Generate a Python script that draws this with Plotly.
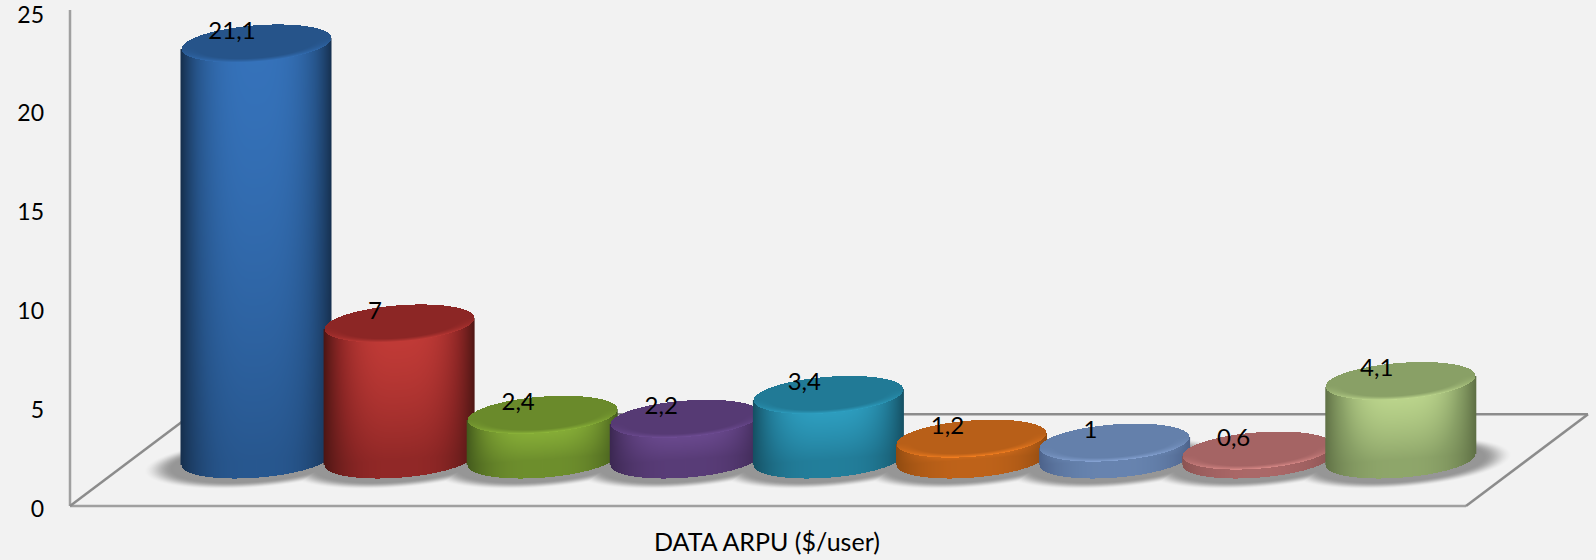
"""DATA ARPU chart: 3D-looking cylinders drawn as shaded heatmaps on a flat floor."""
import numpy as np
import plotly.graph_objects as go

VALUES = [21.1, 7, 2.4, 2.2, 3.4, 1.2, 1, 0.6, 4.1]
AXIS_LABEL = "DATA ARPU ($/user)"
Y_TICKS = [0, 5, 10, 15, 20, 25]

# edge of the side, top face, brightest part of the side
EDGE = ["#16304f", "#4e1614", "#435a1c", "#3c2852", "#155063", "#8f4a10", "#4c628a", "#8a5352", "#5f7045"]
TOP = ["#26548a", "#8c2625", "#6a8a2b", "#563a74", "#217a96", "#b85f18", "#6480ab", "#a56464", "#89a066"]
LIGHT = ["#3572ba", "#c23b37", "#8db63a", "#6f4d95", "#2fa2c4", "#f47f20", "#86a3d3", "#d98a88", "#bfd98f"]

FONT = "Lato"
BG = "#f2f2f2"

# screen scale of the axes
PX_X = 143.1
PX_Y = 19.76
# cylinder footprint in px
A, B, TILT = 75.0, 18.2, 0.0733
# perspective offsets of the floor, in y axis units
BOTTOM_Y = 2.33
TOP_Y = 2.18
TOP_SCALE = 1.005
# tick labels sit a little under their gridline height in the original
LABEL_DROP = 0.13
Y_TOP = 25.1


def top_of(v):
    return v * TOP_SCALE + TOP_Y


def cylinder(i, v, edge, top, light):
    top_y = top_of(v)
    xs = i + np.arange(-A, A + 1) / PX_X
    ys = np.arange(BOTTOM_Y - 20 / PX_Y, top_y + 20 / PX_Y, 1 / PX_Y)
    X, Y = np.meshgrid((xs - i) * PX_X, ys)
    u = X / A
    up_top = (Y - top_y) * PX_Y - TILT * X
    up_bot = (Y - BOTTOM_Y) * PX_Y - TILT * X
    rad_top = np.sqrt(u ** 2 + (up_top / B) ** 2)
    rad_bot = np.sqrt(u ** 2 + (up_bot / B) ** 2)

    # side: dark edges, bright middle, fading towards the floor
    height = (top_y - BOTTOM_Y) * PX_Y
    t = np.clip(-up_top / max(height, 1), 0, 1)
    z = (1 - np.abs(u) ** 3) * (1 - 0.45 * t ** 1.5)
    inside = (np.abs(u) <= 1) & ((up_bot >= 0) | (rad_bot <= 1)) & ((up_top <= 0) | (rad_top <= 1))
    z = np.where(inside, z, np.nan)

    # top face with a bright bevel along its front rim
    on_top = rad_top <= 1
    front = np.clip(-up_top / B, 0, 1)
    rim = np.clip((rad_top - 0.8) / 0.2, 0, 1)
    z = np.where(on_top, 0.5 + 0.5 * rim * front, z)

    return go.Heatmap(x=xs, y=ys, z=z, zmin=0, zmax=1, showscale=False, hoverinfo="skip",
                      colorscale=[[0, edge], [0.5, top], [1, light]])


def shadow():
    xs = np.arange(-1.3, len(VALUES) + 0.4, 1 / PX_X)
    ys = np.arange(0.5, 6, 1 / PX_Y)
    Xg, Yg = np.meshgrid(xs, ys)
    z = np.zeros_like(Xg)
    for i in range(len(VALUES)):
        X = (Xg - i) * PX_X
        up = (Yg - 2.2) * PX_Y - TILT * X
        d = np.sqrt((X / 112) ** 2 + (up / 25) ** 2)
        a = np.clip((1 - d) / 0.26, 0, 1)
        z = np.maximum(z, a * a * (3 - 2 * a))
    return go.Heatmap(x=xs, y=ys, z=z, zmin=0, zmax=1, showscale=False, hoverinfo="skip",
                      colorscale=[[0, "rgba(150,150,150,0)"], [1, "rgba(150,150,150,1)"]])


fig = go.Figure()
fig.add_trace(shadow())
for i, v in enumerate(VALUES):
    fig.add_trace(cylinder(i, v, EDGE[i], TOP[i], LIGHT[i]))

fig.add_trace(go.Scatter(
    x=[i - 0.168 for i in range(len(VALUES))],
    y=[top_of(v) + 0.56 for v in VALUES],
    text=[f"{v:g}".replace(".", ",") for v in VALUES],
    mode="text", textposition="middle center", cliponaxis=False, hoverinfo="skip", showlegend=False,
    textfont=dict(family=FONT, size=24, color="#000000"),
))


def px_x(p):
    return (p - 256) / PX_X


# value axis and floor outline, under the cylinders
fig.add_shape(type="line", layer="below", x0=px_x(70), x1=px_x(70), y0=0, y1=Y_TOP,
              line=dict(color="#a0a0a0", width=2.5))
fig.add_shape(type="line", layer="below", x0=px_x(70), x1=px_x(1466), y0=0, y1=0,
              line=dict(color="#a0a0a0", width=2.5))
fig.add_shape(type="line", layer="below", x0=px_x(70), x1=px_x(192), y0=0, y1=4.65,
              line=dict(color="#8c8c8c", width=2.5))
fig.add_shape(type="line", layer="below", x0=px_x(192), x1=px_x(1588), y0=4.65, y1=4.65,
              line=dict(color="#8c8c8c", width=2.5))
fig.add_shape(type="line", layer="below", x0=px_x(1466), x1=px_x(1588), y0=0, y1=4.65,
              line=dict(color="#8c8c8c", width=2.5))

# the default template turns automargin on, which would shrink the plot area
fig.update_xaxes(range=[px_x(68), px_x(1596)], showgrid=False, zeroline=False, showline=False,
                 automargin=False, tickvals=[px_x(767)], ticktext=[AXIS_LABEL], ticks="",
                 ticklabelstandoff=16, ticklabeloverflow="allow",
                 tickfont=dict(family=FONT, size=25, color="#000000"))
fig.update_yaxes(range=[-0.15, Y_TOP], showgrid=False, zeroline=False, showline=False,
                 automargin=False, ticks="", ticklabelstandoff=23, ticklabeloverflow="allow",
                 tickvals=[t - LABEL_DROP for t in Y_TICKS], ticktext=[str(t) for t in Y_TICKS],
                 tickfont=dict(family=FONT, size=23, color="#000000"))
fig.update_layout(width=1596, height=560, autosize=False, showlegend=False,
                  paper_bgcolor=BG, plot_bgcolor=BG,
                  margin=dict(l=68, r=0, t=10, b=51))

# the page's default body margin would push the chart off the window
fig.write_html("out.html", post_script="document.body.style.margin = '0';",
               config=dict(displayModeBar=False))
